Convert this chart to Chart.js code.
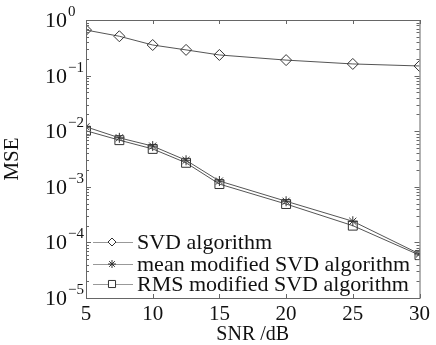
<!DOCTYPE html>
<html>
<head>
<meta charset="utf-8">
<script src="https://cdn.jsdelivr.net/npm/chart.js@4"></script>
<style>
  html, body { margin: 0; background: #fff; }
  #wrap { width: 436px; height: 345px; }
</style>
</head>
<body>
<div id="wrap"><canvas id="c"></canvas></div>
<script>
const snr = [5, 7.5, 10, 12.5, 15, 20, 25, 30];
const svd = [0.66, 0.51, 0.355, 0.29, 0.235, 0.19, 0.162, 0.149];
const meanSvd = [0.012, 0.0076, 0.0054, 0.003, 0.00127, 0.00055, 0.00024, 0.000062];
const rmsSvd = [0.0102, 0.0069, 0.0048, 0.0027, 0.00112, 0.00049, 0.0002, 0.000059];
const xTicks = [5, 10, 15, 20, 25, 30];
const yExponents = [-5, -4, -3, -2, -1, 0];
const names = ['SVD algorithm', 'mean modified SVD algorithm', 'RMS modified SVD algorithm'];
const styles = ['rectRot', 'star', 'rect'];

const serif = '"Liberation Serif", "Times New Roman", serif';
const ink = '#333';

function series(values, i, r) {
    return {
        label: names[i],
        data: snr.map((x, k) => ({ x, y: values[k] })),
        borderColor: '#555',
        borderWidth: 1,
        pointStyle: styles[i],
        pointRadius: r,
        pointBorderColor: ink,
        pointBorderWidth: 1,
        pointBackgroundColor: 'rgba(0,0,0,0)',
        tension: 0
    };
}

// frame, inward ticks, superscript labels and the legend
const decor = {
    id: 'decor',
    afterDraw(chart) {
        const { ctx, chartArea: a, scales: { x, y } } = chart;
        ctx.save();
        ctx.strokeStyle = '#666';
        ctx.lineWidth = 1;
        ctx.strokeRect(a.left + 0.5, a.top + 0.5, a.right - a.left, a.bottom - a.top);

        ctx.beginPath();
        xTicks.forEach(v => {
            const px = Math.round(x.getPixelForValue(v)) + 0.5;
            ctx.moveTo(px, a.bottom); ctx.lineTo(px, a.bottom - 4);
            ctx.moveTo(px, a.top); ctx.lineTo(px, a.top + 4);
        });
        yExponents.forEach(e => {
            for (let m = 1; m <= 9; m++) {
                if (e === 0 && m > 1) break;
                const py = Math.round(y.getPixelForValue(m * Math.pow(10, e))) + 0.5;
                const len = m === 1 ? 5 : 3;
                ctx.moveTo(a.left, py); ctx.lineTo(a.left + len, py);
                ctx.moveTo(a.right, py); ctx.lineTo(a.right - len, py);
            }
        });
        ctx.stroke();

        // y labels 10^n
        ctx.fillStyle = '#111';
        ctx.textBaseline = 'alphabetic';
        ctx.textAlign = 'left';
        yExponents.forEach(e => {
            const py = y.getPixelForValue(Math.pow(10, e));
            const sup = e < 0 ? '\u2212' + (-e) : String(e);
            ctx.font = '22px ' + serif;
            ctx.fillText('10', 45, py + 7);
            const w = ctx.measureText('10').width;
            ctx.font = '15px ' + serif;
            ctx.fillText(sup, 45 + w + 1, py - 4);
        });

        // legend
        const rows = [242, 264, 284];
        const radii = [4, 4, 5];
        ctx.font = '22px ' + serif;
        ctx.textBaseline = 'middle';
        rows.forEach((ry, i) => {
            ctx.strokeStyle = '#999';
            ctx.beginPath();
            ctx.moveTo(a.left + 7, ry + 0.5);
            ctx.lineTo(a.left + 47, ry + 0.5);
            ctx.stroke();
            ctx.strokeStyle = ink;
            ctx.fillStyle = '#fff';
            Chart.helpers.drawPoint(ctx, { pointStyle: styles[i], radius: radii[i], borderWidth: 1 }, a.left + 26, ry);
            ctx.fillStyle = '#111';
            ctx.fillText(names[i], a.left + 51, ry + 1);
        });
        ctx.restore();
    }
};

new Chart(document.getElementById('c'), {
    type: 'line',
    data: {
        datasets: [series(svd, 0, 5.5), series(meanSvd, 1, 5), series(rmsSvd, 2, 6.3)]
    },
    options: {
        responsive: true,
        maintainAspectRatio: false,
        animation: false,
        layout: { padding: { top: 20, right: 12 } },
        plugins: { legend: { display: false }, tooltip: { enabled: false } },
        scales: {
            x: {
                type: 'linear',
                min: 5,
                max: 30,
                afterBuildTicks(s) { s.ticks = xTicks.map(v => ({ value: v })); },
                afterFit(s) { s.height = 47; },
                grid: { display: false, drawTicks: false },
                border: { display: false },
                ticks: { color: '#111', font: { family: serif, size: 21, lineHeight: 1 }, padding: 6, maxRotation: 0 },
                title: { display: true, text: 'SNR /dB', color: '#111', font: { family: serif, size: 20, lineHeight: 1 }, padding: { top: 0, bottom: 0 } }
            },
            y: {
                type: 'logarithmic',
                min: 1e-5,
                max: 1,
                afterFit(s) { s.width = 86; },
                grid: { display: false },
                border: { display: false },
                ticks: { display: false },
                title: { display: true, text: 'MSE', color: '#111', font: { family: serif, size: 21 }, padding: { top: 0, bottom: 0 } }
            }
        }
    },
    plugins: [decor]
});
</script>
</body>
</html>
